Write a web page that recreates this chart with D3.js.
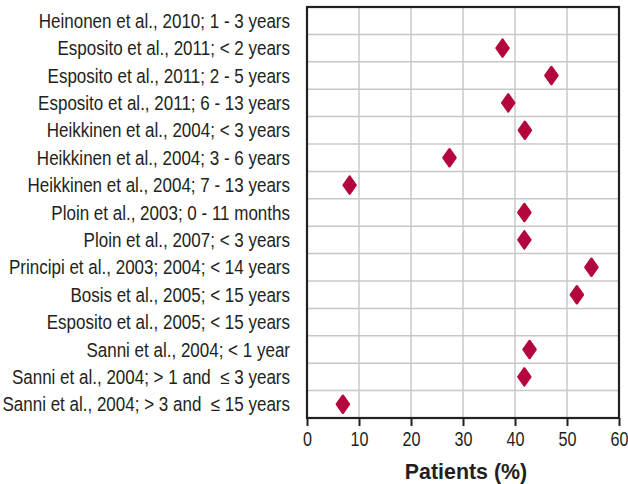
<!DOCTYPE html>
<html>
<head>
<meta charset="utf-8">
<script src="https://cdn.jsdelivr.net/npm/d3@7"></script>
<style>
  body { margin: 0; background: #fff; }
  text { font-family: "Liberation Sans", Arial, sans-serif; fill: #231f20; white-space: pre; }
</style>
</head>
<body>
<div id="chart"></div>
<script>
// studies, top to bottom
const studies = [
  "Heinonen et al., 2010; 1 - 3 years",
  "Esposito et al., 2011; < 2 years",
  "Esposito et al., 2011; 2 - 5 years",
  "Esposito et al., 2011; 6 - 13 years",
  "Heikkinen et al., 2004; < 3 years",
  "Heikkinen et al., 2004; 3 - 6 years",
  "Heikkinen et al., 2004; 7 - 13 years",
  "Ploin et al., 2003; 0 - 11 months",
  "Ploin et al., 2007; < 3 years",
  "Principi et al., 2003; 2004; < 14 years",
  "Bosis et al., 2005; < 15 years",
  "Esposito et al., 2005; < 15 years",
  "Sanni et al., 2004; < 1 year",
  "Sanni et al., 2004; > 1 and  \u2264 3 years",
  "Sanni et al., 2004; > 3 and  \u2264 15 years"
];
// patients (%), null = no value shown
const patients = [null, 37.6, 47.0, 38.7, 41.9, 27.4, 8.2, 41.8, 41.8, 54.7, 51.9, null, 42.8, 41.8, 6.9];
const xTicks = [0, 10, 20, 30, 40, 50, 60];

const W = 628, H = 484;
const margin = { top: 7, right: 9, bottom: 66, left: 307 };
const width = W - margin.left - margin.right,
  height = H - margin.top - margin.bottom;

const svg = d3.select("#chart").append("svg")
  .attr("width", W).attr("height", H);
const g = svg.append("g")
  .attr("transform", "translate(" + margin.left + "," + margin.top + ")");

const x = d3.scaleLinear().domain([0, 60]).range([0, width]);
const y = d3.scaleBand().domain(d3.range(studies.length)).range([0, height]);

// grid
g.append("g").selectAll("line.v")
  .data(xTicks.slice(1, -1))
  .join("line")
  .attr("x1", d => x(d)).attr("x2", d => x(d))
  .attr("y1", 0).attr("y2", height)
  .attr("stroke", "#c8c8c8").attr("stroke-width", 1.5);
g.append("g").selectAll("line.h")
  .data(d3.range(1, studies.length))
  .join("line")
  .attr("x1", 0).attr("x2", width)
  .attr("y1", d => y(d)).attr("y2", d => y(d))
  .attr("stroke", "#c8c8c8").attr("stroke-width", 1.5);

// frame
g.append("rect")
  .attr("width", width).attr("height", height)
  .attr("fill", "none").attr("stroke", "#231f20").attr("stroke-width", 2.2);

// x axis
const xAxis = g.append("g")
  .attr("transform", "translate(0," + height + ")")
  .call(d3.axisBottom(x).tickValues(xTicks).tickSize(8).tickPadding(6));
xAxis.select(".domain").remove();
xAxis.selectAll("line").attr("stroke", "#231f20").attr("stroke-width", 2);
xAxis.selectAll("text")
  .attr("font-size", 19.5).attr("fill", "#231f20")
  .attr("font-family", "Liberation Sans, Arial, sans-serif")
  .attr("transform", "scale(0.83,1)");

// y labels (narrow face, like the original)
g.append("g").selectAll("g")
  .data(studies)
  .join("g")
  .attr("transform", (d, i) => "translate(-17," + (y(i) + y.bandwidth() / 2) + ") scale(0.872,1)")
  .append("text")
  .attr("dy", "0.36em")
  .attr("text-anchor", "end")
  .attr("font-size", 19.5)
  .text(d => d);

// diamonds
const pts = patients.map((v, i) => ({ v, i })).filter(d => d.v != null);
g.append("g").selectAll("path")
  .data(pts)
  .join("path")
  .attr("transform", d => "translate(" + x(d.v) + "," + (y(d.i) + y.bandwidth() / 2) + ")")
  .attr("d", "M0,-8.5 L6,0 L0,8.5 L-6,0 Z")
  .attr("fill", "#b4063c")
  .attr("stroke", "#b4063c")
  .attr("stroke-width", 2.5)
  .attr("stroke-linejoin", "round");

// title
svg.append("g")
  .attr("transform", "translate(" + (margin.left + width / 2 + 3) + ",479) scale(0.93,1)")
  .append("text")
  .attr("text-anchor", "middle")
  .attr("font-size", 23)
  .attr("font-weight", "bold")
  .text("Patients (%)");
</script>
</body>
</html>
